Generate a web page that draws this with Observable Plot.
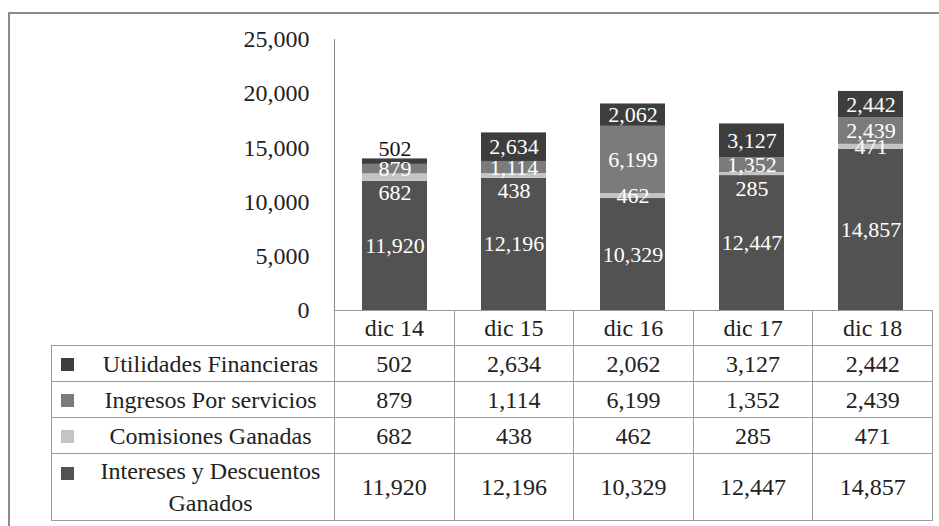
<!DOCTYPE html>
<html>
<head>
<meta charset="utf-8">
<script src="https://cdn.jsdelivr.net/npm/d3@7"></script>
<script src="https://cdn.jsdelivr.net/npm/@observablehq/plot@0.6"></script>
<style>
  html, body { margin: 0; padding: 0; background: #fff; }
  #wrap { position: relative; width: 939px; height: 526px; overflow: hidden; background: #fff; font-family: "Liberation Serif", Tinos, "DejaVu Serif", serif; }
  #frame { position: absolute; left: 8px; top: 12px; width: 960px; height: 560px; border-left: 2px solid #8c8c8c; border-top: 2px solid #8c8c8c; }
  #chart { position: absolute; left: 0; top: 0; }
  #tbl { position: absolute; left: 51px; top: 310px; border-collapse: collapse; table-layout: fixed; font-size: 24px; color: #222; font-family: "Liberation Serif", Tinos, "DejaVu Serif", serif; }
  #tbl td { border: 1.5px solid #9a9a9a; padding: 0; text-align: center; vertical-align: middle; line-height: 32px; }
  #tbl td.empty { border: none; }
  #tbl td.lab { position: relative; padding-left: 35px; }
  #tbl .sw { position: absolute; left: 9px; width: 13px; height: 13px; }
</style>
</head>
<body>
<div id="wrap">
  <div id="frame"></div>
  <div id="chart"></div>
  <table id="tbl"></table>
</div>
<script>
// ---- data ----
const categories = ["dic 14", "dic 15", "dic 16", "dic 17", "dic 18"];
const seriesNames = ["Intereses y Descuentos Ganados", "Comisiones Ganadas", "Ingresos Por servicios", "Utilidades Financieras"];
const intereses   = [11920, 12196, 10329, 12447, 14857];
const comisiones  = [682, 438, 462, 285, 471];
const ingresos    = [879, 1114, 6199, 1352, 2439];
const utilidades  = [502, 2634, 2062, 3127, 2442];
const yTicks = [0, 5000, 10000, 15000, 20000, 25000];
const seriesColors = ["#525252", "#c4c4c4", "#7b7b7b", "#3d3d3d"];

const seriesValues = [intereses, comisiones, ingresos, utilidades];
const rows = [];
seriesNames.forEach((s, i) => categories.forEach((c, j) => rows.push({series: s, cat: c, idx: j, value: seriesValues[i][j]})));

const fmt = d3.format(",");
const topSeries = seriesNames[seriesNames.length - 1];
const thinSeries = seriesNames[1];
const outside = d => d.series === topSeries && d.value < 600;
// thin-series label is pushed down when the segment above it is also thin (label collision avoidance)
const pushed = d => d.series === thinSeries && ingresos[d.idx] < 2000;
const ff = "Liberation Serif, Tinos, DejaVu Serif, serif";

const chart = Plot.plot({
  width: 939,
  height: 346,
  marginTop: 39,
  marginBottom: 36,
  marginLeft: 334,
  marginRight: 8,
  style: {fontFamily: ff, overflow: "visible", background: "transparent"},
  x: {domain: categories, paddingInner: 0.45, paddingOuter: 0.225, axis: null},
  y: {domain: [0, 25000], axis: null},
  color: {domain: seriesNames, range: seriesColors},
  marks: [
    Plot.barY(rows, {x: "cat", y: "value", z: "series", fill: "series"}),
    Plot.text(rows, Plot.stackY({x: "cat", y: "value", z: "series",
      text: d => (outside(d) || pushed(d)) ? "" : fmt(d.value), fill: "white", fontSize: 22})),
    Plot.text(rows, Plot.stackY({x: "cat", y: "value", z: "series",
      text: d => pushed(d) ? fmt(d.value) : "", fill: "white", fontSize: 22, dy: 15})),
    Plot.text(rows, Plot.stackY2({x: "cat", y: "value", z: "series",
      text: d => outside(d) ? fmt(d.value) : "", fill: "#111", fontSize: 22, lineAnchor: "bottom", dy: -3})),
    Plot.axisY({ticks: yTicks, tickFormat: fmt, tickSize: 0, tickPadding: 25, fontSize: 24, fill: "#222", label: null}),
    Plot.frame({anchor: "left", stroke: "#8a8a8a"})
  ]
});
document.getElementById("chart").appendChild(chart);

// ---- data table ----
const tbl = document.getElementById("tbl");
const cg = document.createElement("colgroup");
[283, 119.6, 119.6, 119.6, 119.6, 119.6].forEach(w => { const c = document.createElement("col"); c.style.width = w + "px"; cg.appendChild(c); });
tbl.appendChild(cg);
let tr = document.createElement("tr");
tr.style.height = "35px";
let td = document.createElement("td"); td.className = "empty"; tr.appendChild(td);
categories.forEach(c => { const t = document.createElement("td"); t.textContent = c; tr.appendChild(t); });
tbl.appendChild(tr);
const order = [3, 2, 1, 0];
order.forEach(i => {
  const r = document.createElement("tr");
  const twoLine = i === 0;
  r.style.height = twoLine ? "67px" : "36px";
  const lab = document.createElement("td");
  lab.className = "lab";
  const sw = document.createElement("div");
  sw.className = "sw";
  sw.style.background = seriesColors[i];
  sw.style.top = twoLine ? "13px" : "calc(50% - 6px)";
  lab.appendChild(sw);
  const sp = document.createElement("div");
  if (twoLine) { sp.innerHTML = "Intereses y Descuentos<br>Ganados"; } else { sp.textContent = seriesNames[i]; }
  lab.appendChild(sp);
  r.appendChild(lab);
  seriesValues[i].forEach(v => { const t = document.createElement("td"); t.textContent = fmt(v); r.appendChild(t); });
  tbl.appendChild(r);
});
</script>
</body>
</html>
